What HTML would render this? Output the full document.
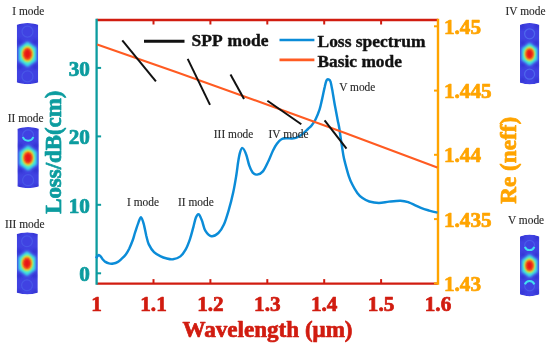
<!DOCTYPE html>
<html><head><meta charset="utf-8"><style>
html,body{margin:0;padding:0;background:#fff;width:550px;height:350px;overflow:hidden;}
svg{display:block;font-family:"Liberation Serif",serif;filter:blur(0.4px);}
</style></head><body>
<svg width="550" height="350" viewBox="0 0 550 350">
<defs>
<radialGradient id="hot" cx="50%" cy="50%" r="50%">
<stop offset="0" stop-color="#e00a0a"/>
<stop offset="0.3" stop-color="#ec1c10"/>
<stop offset="0.46" stop-color="#f88a18"/>
<stop offset="0.58" stop-color="#eee838"/>
<stop offset="0.72" stop-color="#58e8c8"/>
<stop offset="0.86" stop-color="#38a8f0"/>
<stop offset="1" stop-color="#3552e4" stop-opacity="0"/>
</radialGradient>
<radialGradient id="ring" cx="50%" cy="50%" r="50%">
<stop offset="0" stop-color="#3a58e8" stop-opacity="0"/>
<stop offset="0.6" stop-color="#3a58e8" stop-opacity="0"/>
<stop offset="0.82" stop-color="#5a90f4" stop-opacity="0.8"/>
<stop offset="1" stop-color="#3a58e8" stop-opacity="0"/>
</radialGradient>
<filter id="bl" x="-20%" y="-20%" width="140%" height="140%"><feGaussianBlur stdDeviation="0.6"/></filter>
<filter id="bl2" x="-20%" y="-20%" width="140%" height="140%"><feGaussianBlur stdDeviation="0.9"/></filter>
<filter id="bl3" x="-30%" y="-30%" width="160%" height="160%"><feGaussianBlur stdDeviation="1.4"/></filter>
</defs>
<line x1="96.6" y1="20" x2="438" y2="20" stroke="#d11c10" stroke-width="2.3"/>
<line x1="96.6" y1="283.6" x2="438" y2="283.6" stroke="#d11c10" stroke-width="2.3"/>
<line x1="153.5" y1="20" x2="153.5" y2="24.5" stroke="#d11c10" stroke-width="2"/>
<line x1="153.5" y1="283.6" x2="153.5" y2="279.1" stroke="#d11c10" stroke-width="2"/>
<line x1="210.4" y1="20" x2="210.4" y2="24.5" stroke="#d11c10" stroke-width="2"/>
<line x1="210.4" y1="283.6" x2="210.4" y2="279.1" stroke="#d11c10" stroke-width="2"/>
<line x1="267.3" y1="20" x2="267.3" y2="24.5" stroke="#d11c10" stroke-width="2"/>
<line x1="267.3" y1="283.6" x2="267.3" y2="279.1" stroke="#d11c10" stroke-width="2"/>
<line x1="324.2" y1="20" x2="324.2" y2="24.5" stroke="#d11c10" stroke-width="2"/>
<line x1="324.2" y1="283.6" x2="324.2" y2="279.1" stroke="#d11c10" stroke-width="2"/>
<line x1="381.1" y1="20" x2="381.1" y2="24.5" stroke="#d11c10" stroke-width="2"/>
<line x1="381.1" y1="283.6" x2="381.1" y2="279.1" stroke="#d11c10" stroke-width="2"/>
<line x1="96.6" y1="18.7" x2="96.6" y2="284.70000000000005" stroke="#0c9c9f" stroke-width="2.3"/>
<line x1="96.6" y1="273.3" x2="101.1" y2="273.3" stroke="#0c9c9f" stroke-width="2"/>
<line x1="96.6" y1="204.8" x2="101.1" y2="204.8" stroke="#0c9c9f" stroke-width="2"/>
<line x1="96.6" y1="136.4" x2="101.1" y2="136.4" stroke="#0c9c9f" stroke-width="2"/>
<line x1="96.6" y1="67.9" x2="101.1" y2="67.9" stroke="#0c9c9f" stroke-width="2"/>
<line x1="438" y1="18.7" x2="438" y2="284.70000000000005" stroke="#ffa400" stroke-width="2.4"/>
<line x1="438" y1="283.4" x2="434" y2="283.4" stroke="#ffa400" stroke-width="2"/>
<line x1="438" y1="219.1" x2="434" y2="219.1" stroke="#ffa400" stroke-width="2"/>
<line x1="438" y1="154.8" x2="434" y2="154.8" stroke="#ffa400" stroke-width="2"/>
<line x1="438" y1="90.6" x2="434" y2="90.6" stroke="#ffa400" stroke-width="2"/>
<line x1="438" y1="26.3" x2="434" y2="26.3" stroke="#ffa400" stroke-width="2"/>
<path d="M96.0,258.2 C96.2,257.9 97.0,256.7 97.5,256.2 C98.0,255.7 98.5,255.0 99.1,255.1 C99.6,255.2 100.2,255.9 100.8,256.6 C101.4,257.3 101.8,258.3 102.6,259.2 C103.4,260.1 104.4,261.2 105.4,261.9 C106.5,262.6 107.6,263.1 108.9,263.4 C110.2,263.7 112.0,263.7 113.4,263.5 C114.8,263.3 116.2,262.9 117.5,262.2 C118.8,261.5 119.9,260.4 121.3,259.1 C122.7,257.8 124.5,256.2 125.8,254.5 C127.1,252.8 128.0,251.2 129.2,248.8 C130.3,246.4 131.7,243.0 132.7,240.3 C133.7,237.6 134.1,235.4 135.1,232.4 C136.1,229.4 137.6,224.6 138.6,222.1 C139.6,219.6 140.2,217.0 141.1,217.3 C141.9,217.6 142.8,220.7 143.7,223.8 C144.6,226.9 145.5,232.4 146.3,235.8 C147.2,239.2 147.5,241.7 148.8,244.4 C150.1,247.1 152.0,250.1 154.0,252.1 C156.0,254.1 158.8,255.4 160.8,256.4 C162.8,257.4 164.0,257.8 166.0,258.3 C168.0,258.8 170.6,259.6 173.0,259.3 C175.4,259.0 178.3,258.0 180.4,256.4 C182.5,254.8 184.0,252.4 185.6,249.6 C187.2,246.8 188.6,243.0 189.9,239.3 C191.2,235.6 192.3,230.9 193.3,227.3 C194.3,223.7 195.0,219.7 195.9,217.5 C196.8,215.3 197.8,213.9 198.8,214.4 C199.8,214.9 200.8,217.7 201.9,220.4 C203.0,223.1 203.7,228.1 205.3,230.7 C206.9,233.3 209.1,235.8 211.3,236.2 C213.5,236.6 216.3,234.9 218.4,233.0 C220.5,231.1 222.1,228.6 223.9,224.6 C225.7,220.6 227.4,214.6 229.0,209.2 C230.6,203.8 232.1,197.5 233.3,192.0 C234.5,186.5 235.4,180.9 236.2,176.0 C237.0,171.1 237.5,166.2 238.1,162.3 C238.7,158.5 239.2,155.3 239.9,152.9 C240.6,150.5 241.4,148.0 242.4,148.1 C243.4,148.2 244.8,150.8 245.9,153.7 C247.1,156.6 248.2,162.5 249.3,165.7 C250.4,168.8 251.4,171.1 252.7,172.6 C254.0,174.1 255.4,174.8 257.1,174.6 C258.8,174.4 261.0,173.7 262.9,171.4 C264.8,169.1 266.9,164.1 268.6,160.7 C270.3,157.2 271.5,153.5 272.9,150.7 C274.3,147.8 275.7,145.5 277.1,143.6 C278.5,141.7 279.8,140.2 281.4,139.3 C282.9,138.4 284.6,138.4 286.4,138.3 C288.2,138.2 290.2,138.6 292.0,138.5 C293.8,138.4 295.2,138.3 297.0,137.5 C298.8,136.7 300.9,135.3 302.7,133.9 C304.5,132.5 306.4,130.5 308.0,129.0 C309.6,127.5 310.8,126.6 312.0,125.0 C313.2,123.4 314.2,122.1 315.5,119.5 C316.8,116.9 318.5,112.8 319.6,109.4 C320.7,106.0 321.2,102.8 322.1,99.1 C323.0,95.4 323.9,90.2 324.7,87.1 C325.4,84.0 326.0,81.6 326.6,80.3 C327.2,79.0 327.9,79.2 328.5,79.4 C329.1,79.6 329.9,79.6 330.5,81.5 C331.1,83.4 331.6,86.5 332.4,90.6 C333.1,94.7 334.1,101.2 335.0,106.0 C335.9,110.8 336.9,116.0 337.6,119.7 C338.3,123.4 338.7,124.5 339.3,128.3 C339.9,132.2 340.7,138.3 341.4,142.8 C342.1,147.3 342.8,152.0 343.4,155.5 C344.0,159.0 344.4,160.3 345.3,163.7 C346.2,167.1 347.6,172.4 348.7,175.8 C349.8,179.2 350.8,181.5 352.2,184.3 C353.6,187.2 355.6,190.6 357.3,192.9 C359.0,195.2 360.5,196.7 362.5,198.1 C364.5,199.5 366.6,200.7 369.3,201.5 C372.0,202.3 375.6,202.9 378.9,202.9 C382.2,202.9 385.5,202.0 389.1,201.6 C392.7,201.2 397.3,200.6 400.5,200.7 C403.7,200.8 404.8,201.0 408.2,202.2 C411.6,203.4 417.4,206.5 420.9,207.9 C424.4,209.3 426.4,209.8 429.2,210.6 C432.0,211.4 436.1,212.3 437.5,212.6" fill="none" stroke="#0b8cd8" stroke-width="2.45" stroke-linejoin="round"/>
<path d="M97.2,44.6 Q267.25,103.3 437.3,167.4" fill="none" stroke="#ff5b22" stroke-width="2.1"/>
<line x1="122.3" y1="40.3" x2="155.9" y2="81.4" stroke="#111" stroke-width="2"/>
<line x1="187.7" y1="58.9" x2="210" y2="104.9" stroke="#111" stroke-width="2"/>
<line x1="230.5" y1="74.4" x2="244" y2="99.1" stroke="#111" stroke-width="2"/>
<line x1="267.4" y1="100.8" x2="301.3" y2="124.2" stroke="#111" stroke-width="2"/>
<line x1="324.6" y1="120.3" x2="346.5" y2="148.6" stroke="#111" stroke-width="2"/>
<text transform="translate(89.9,281.0) scale(1.06,1)" font-family="Liberation Serif, serif" font-weight="bold" font-size="20" fill="#0c9c9f" stroke="#0c9c9f" stroke-width="0.7" stroke-linejoin="round" text-anchor="end" >0</text>
<text transform="translate(89.9,212.5) scale(1.06,1)" font-family="Liberation Serif, serif" font-weight="bold" font-size="20" fill="#0c9c9f" stroke="#0c9c9f" stroke-width="0.7" stroke-linejoin="round" text-anchor="end" >10</text>
<text transform="translate(89.9,144.1) scale(1.06,1)" font-family="Liberation Serif, serif" font-weight="bold" font-size="20" fill="#0c9c9f" stroke="#0c9c9f" stroke-width="0.7" stroke-linejoin="round" text-anchor="end" >20</text>
<text transform="translate(89.9,75.6) scale(1.06,1)" font-family="Liberation Serif, serif" font-weight="bold" font-size="20" fill="#0c9c9f" stroke="#0c9c9f" stroke-width="0.7" stroke-linejoin="round" text-anchor="end" >30</text>
<text transform="translate(443.9,291.0) scale(1.06,1)" font-family="Liberation Serif, serif" font-weight="bold" font-size="20" fill="#ffa400" stroke="#ffa400" stroke-width="0.7" stroke-linejoin="round" text-anchor="start" >1.43</text>
<text transform="translate(443.9,226.7) scale(1.06,1)" font-family="Liberation Serif, serif" font-weight="bold" font-size="20" fill="#ffa400" stroke="#ffa400" stroke-width="0.7" stroke-linejoin="round" text-anchor="start" >1.435</text>
<text transform="translate(443.9,162.4) scale(1.06,1)" font-family="Liberation Serif, serif" font-weight="bold" font-size="20" fill="#ffa400" stroke="#ffa400" stroke-width="0.7" stroke-linejoin="round" text-anchor="start" >1.44</text>
<text transform="translate(443.9,98.2) scale(1.06,1)" font-family="Liberation Serif, serif" font-weight="bold" font-size="20" fill="#ffa400" stroke="#ffa400" stroke-width="0.7" stroke-linejoin="round" text-anchor="start" >1.445</text>
<text transform="translate(443.9,33.9) scale(1.06,1)" font-family="Liberation Serif, serif" font-weight="bold" font-size="20" fill="#ffa400" stroke="#ffa400" stroke-width="0.7" stroke-linejoin="round" text-anchor="start" >1.45</text>
<text transform="translate(96.6,310.6) scale(1.06,1)" font-family="Liberation Serif, serif" font-weight="bold" font-size="20" fill="#d11c10" stroke="#d11c10" stroke-width="0.7" stroke-linejoin="round" text-anchor="middle" >1</text>
<text transform="translate(153.5,310.6) scale(1.06,1)" font-family="Liberation Serif, serif" font-weight="bold" font-size="20" fill="#d11c10" stroke="#d11c10" stroke-width="0.7" stroke-linejoin="round" text-anchor="middle" >1.1</text>
<text transform="translate(210.4,310.6) scale(1.06,1)" font-family="Liberation Serif, serif" font-weight="bold" font-size="20" fill="#d11c10" stroke="#d11c10" stroke-width="0.7" stroke-linejoin="round" text-anchor="middle" >1.2</text>
<text transform="translate(267.3,310.6) scale(1.06,1)" font-family="Liberation Serif, serif" font-weight="bold" font-size="20" fill="#d11c10" stroke="#d11c10" stroke-width="0.7" stroke-linejoin="round" text-anchor="middle" >1.3</text>
<text transform="translate(324.2,310.6) scale(1.06,1)" font-family="Liberation Serif, serif" font-weight="bold" font-size="20" fill="#d11c10" stroke="#d11c10" stroke-width="0.7" stroke-linejoin="round" text-anchor="middle" >1.4</text>
<text transform="translate(381.1,310.6) scale(1.06,1)" font-family="Liberation Serif, serif" font-weight="bold" font-size="20" fill="#d11c10" stroke="#d11c10" stroke-width="0.7" stroke-linejoin="round" text-anchor="middle" >1.5</text>
<text transform="translate(438.0,310.6) scale(1.06,1)" font-family="Liberation Serif, serif" font-weight="bold" font-size="20" fill="#d11c10" stroke="#d11c10" stroke-width="0.7" stroke-linejoin="round" text-anchor="middle" >1.6</text>
<text transform="translate(267.5,336.8) scale(1.004,1)" font-family="Liberation Serif, serif" font-weight="bold" font-size="23" fill="#d11c10" stroke="#d11c10" stroke-width="0.7" stroke-linejoin="round" text-anchor="middle" >Wavelength (μm)</text>
<g transform="translate(60.6,152.2) rotate(-90)"><text transform="translate(0.0,0.0) scale(0.995,1)" font-family="Liberation Serif, serif" font-weight="bold" font-size="23" fill="#0c9c9f" stroke="#0c9c9f" stroke-width="0.7" stroke-linejoin="round" text-anchor="middle" >Loss/dB(cm)</text></g>
<g transform="translate(516.3,160.3) rotate(-90)"><text transform="translate(0.0,0.0) scale(1.009,1)" font-family="Liberation Serif, serif" font-weight="bold" font-size="23" fill="#ffa400" stroke="#ffa400" stroke-width="0.7" stroke-linejoin="round" text-anchor="middle" >Re (neff)</text></g>
<line x1="144" y1="41.2" x2="184.5" y2="41.2" stroke="#111" stroke-width="3"/>
<text transform="translate(191.6,45.9) scale(1.0,1)" font-family="Liberation Serif, serif" font-weight="bold" font-size="17.5" fill="#111" stroke="#111" stroke-width="0.4" stroke-linejoin="round" text-anchor="start" word-spacing="1.5">SPP mode</text>
<line x1="279.5" y1="40" x2="314.4" y2="40" stroke="#0b8cd8" stroke-width="2.6"/>
<text transform="translate(317.5,47.3) scale(0.997,1)" font-family="Liberation Serif, serif" font-weight="bold" font-size="17.5" fill="#111" stroke="#111" stroke-width="0.4" stroke-linejoin="round" text-anchor="start" >Loss spectrum</text>
<line x1="279.5" y1="59.9" x2="314.4" y2="59.9" stroke="#ff5b22" stroke-width="2.6"/>
<text transform="translate(317.5,67.3) scale(0.993,1)" font-family="Liberation Serif, serif" font-weight="bold" font-size="17.5" fill="#111" stroke="#111" stroke-width="0.4" stroke-linejoin="round" text-anchor="start" >Basic mode</text>
<text transform="translate(127,206) scale(0.905,1)" font-family="Liberation Serif, serif" font-size="12.6" fill="#2a2a2a" stroke="#2a2a2a" stroke-width="0.15">I mode</text>
<text transform="translate(178,206) scale(0.905,1)" font-family="Liberation Serif, serif" font-size="12.6" fill="#2a2a2a" stroke="#2a2a2a" stroke-width="0.15">II mode</text>
<text transform="translate(213.8,137.6) scale(0.905,1)" font-family="Liberation Serif, serif" font-size="12.6" fill="#2a2a2a" stroke="#2a2a2a" stroke-width="0.15">III mode</text>
<text transform="translate(268.5,137.6) scale(0.905,1)" font-family="Liberation Serif, serif" font-size="12.6" fill="#2a2a2a" stroke="#2a2a2a" stroke-width="0.15">IV mode</text>
<text transform="translate(339.2,91.4) scale(0.905,1)" font-family="Liberation Serif, serif" font-size="12.6" fill="#2a2a2a" stroke="#2a2a2a" stroke-width="0.15">V mode</text>
<text transform="translate(12.3,15.0) scale(0.905,1)" font-family="Liberation Serif, serif" font-size="12.6" fill="#2a2a2a" stroke="#2a2a2a" stroke-width="0.15">I mode</text>
<text transform="translate(7.7,121.8) scale(0.905,1)" font-family="Liberation Serif, serif" font-size="12.6" fill="#2a2a2a" stroke="#2a2a2a" stroke-width="0.15">II mode</text>
<text transform="translate(5,228.0) scale(0.905,1)" font-family="Liberation Serif, serif" font-size="12.6" fill="#2a2a2a" stroke="#2a2a2a" stroke-width="0.15">III mode</text>
<text transform="translate(505.5,14.8) scale(0.905,1)" font-family="Liberation Serif, serif" font-size="12.6" fill="#2a2a2a" stroke="#2a2a2a" stroke-width="0.15">IV mode</text>
<text transform="translate(508,224.1) scale(0.905,1)" font-family="Liberation Serif, serif" font-size="12.6" fill="#2a2a2a" stroke="#2a2a2a" stroke-width="0.15">V mode</text>
<clipPath id="mc1"><path d="M16.8,24.7 Q27.5,21.099999999999998 38.2,24.7 L38.2,82.39999999999999 Q27.5,85.99999999999999 16.8,82.39999999999999 Z"/></clipPath><g clip-path="url(#mc1)"><path d="M16.8,24.7 Q27.5,21.099999999999998 38.2,24.7 L38.2,82.39999999999999 Q27.5,85.99999999999999 16.8,82.39999999999999 Z" fill="#4042e2"/><circle cx="19.9" cy="41.8" r="2.6" fill="#2c2cc8" opacity="0.6" filter="url(#bl3)"/><circle cx="35.1" cy="41.8" r="2.6" fill="#2c2cc8" opacity="0.6" filter="url(#bl3)"/><circle cx="19.9" cy="66.7" r="2.6" fill="#2c2cc8" opacity="0.6" filter="url(#bl3)"/><circle cx="35.1" cy="66.7" r="2.6" fill="#2c2cc8" opacity="0.6" filter="url(#bl3)"/><circle cx="19.3" cy="23.4" r="2.6" fill="#2c2cc8" opacity="0.6" filter="url(#bl3)"/><circle cx="35.7" cy="23.4" r="2.6" fill="#2c2cc8" opacity="0.6" filter="url(#bl3)"/><circle cx="19.3" cy="83.6" r="2.6" fill="#2c2cc8" opacity="0.6" filter="url(#bl3)"/><circle cx="35.7" cy="83.6" r="2.6" fill="#2c2cc8" opacity="0.6" filter="url(#bl3)"/><circle cx="27.5" cy="31.6" r="5.5" fill="none" stroke="#5a86f4" stroke-width="1.2" opacity="0.3" filter="url(#bl)"/><circle cx="27.5" cy="76.4" r="5.5" fill="none" stroke="#5a86f4" stroke-width="1.2" opacity="0.3" filter="url(#bl)"/><polygon points="27.5,41.0 36.9,47.6 36.9,60.9 27.5,67.5 18.1,60.9 18.1,47.6" fill="#4a8cf0" opacity="0.7" filter="url(#bl3)"/><polygon points="27.5,42.0 35.9,48.1 35.9,60.4 27.5,66.5 19.1,60.4 19.1,48.1" fill="#38e4e4" filter="url(#bl2)"/><ellipse cx="27.5" cy="54" rx="6.1" ry="8.4" fill="#a8f070" filter="url(#bl2)"/><ellipse cx="27.5" cy="54" rx="5.3" ry="7.1" fill="#f8d828" filter="url(#bl2)"/><ellipse cx="27.5" cy="54" rx="4.3" ry="5.9" fill="#f46018" filter="url(#bl2)"/><ellipse cx="27.5" cy="54" rx="3.5" ry="4.9" fill="#e81414" filter="url(#bl2)"/></g>
<clipPath id="mc2"><path d="M17.4,128.70000000000002 Q28.099999999999998,125.10000000000001 38.8,128.70000000000002 L38.8,186.39999999999998 Q28.099999999999998,190.0 17.4,186.39999999999998 Z"/></clipPath><g clip-path="url(#mc2)"><path d="M17.4,128.70000000000002 Q28.099999999999998,125.10000000000001 38.8,128.70000000000002 L38.8,186.39999999999998 Q28.099999999999998,190.0 17.4,186.39999999999998 Z" fill="#4042e2"/><circle cx="20.5" cy="145.6" r="2.6" fill="#2c2cc8" opacity="0.6" filter="url(#bl3)"/><circle cx="35.7" cy="145.6" r="2.6" fill="#2c2cc8" opacity="0.6" filter="url(#bl3)"/><circle cx="20.5" cy="170.5" r="2.6" fill="#2c2cc8" opacity="0.6" filter="url(#bl3)"/><circle cx="35.7" cy="170.5" r="2.6" fill="#2c2cc8" opacity="0.6" filter="url(#bl3)"/><circle cx="19.9" cy="127.2" r="2.6" fill="#2c2cc8" opacity="0.6" filter="url(#bl3)"/><circle cx="36.3" cy="127.2" r="2.6" fill="#2c2cc8" opacity="0.6" filter="url(#bl3)"/><circle cx="19.9" cy="187.4" r="2.6" fill="#2c2cc8" opacity="0.6" filter="url(#bl3)"/><circle cx="36.3" cy="187.4" r="2.6" fill="#2c2cc8" opacity="0.6" filter="url(#bl3)"/><circle cx="28.1" cy="135.4" r="5.5" fill="none" stroke="#5a86f4" stroke-width="1.2" opacity="0.35" filter="url(#bl)"/><path d="M22.9,137.0 A5.5,5.5 0 0 0 33.3,137.0" fill="none" stroke="#40e0f0" stroke-width="2" filter="url(#bl)"/><circle cx="28.1" cy="180.2" r="5.5" fill="none" stroke="#5a86f4" stroke-width="1.2" opacity="0.3" filter="url(#bl)"/><polygon points="28.1,144.8 37.5,151.4 37.5,164.7 28.1,171.3 18.7,164.7 18.7,151.4" fill="#4a8cf0" opacity="0.7" filter="url(#bl3)"/><polygon points="28.1,145.8 36.5,151.9 36.5,164.2 28.1,170.3 19.7,164.2 19.7,151.9" fill="#38e4e4" filter="url(#bl2)"/><ellipse cx="28.1" cy="157.8" rx="6.1" ry="8.4" fill="#a8f070" filter="url(#bl2)"/><ellipse cx="28.1" cy="157.8" rx="5.3" ry="7.1" fill="#f8d828" filter="url(#bl2)"/><ellipse cx="28.1" cy="157.8" rx="4.3" ry="5.9" fill="#f46018" filter="url(#bl2)"/><ellipse cx="28.1" cy="157.8" rx="3.5" ry="4.9" fill="#e81414" filter="url(#bl2)"/></g>
<clipPath id="mc3"><path d="M16.8,234.10000000000002 Q27.3,230.5 37.8,234.10000000000002 L37.8,292.8 Q27.3,296.40000000000003 16.8,292.8 Z"/></clipPath><g clip-path="url(#mc3)"><path d="M16.8,234.10000000000002 Q27.3,230.5 37.8,234.10000000000002 L37.8,292.8 Q27.3,296.40000000000003 16.8,292.8 Z" fill="#4042e2"/><circle cx="19.5" cy="251.3" r="2.6" fill="#2c2cc8" opacity="0.6" filter="url(#bl3)"/><circle cx="34.5" cy="251.3" r="2.6" fill="#2c2cc8" opacity="0.6" filter="url(#bl3)"/><circle cx="19.5" cy="275.8" r="2.6" fill="#2c2cc8" opacity="0.6" filter="url(#bl3)"/><circle cx="34.5" cy="275.8" r="2.6" fill="#2c2cc8" opacity="0.6" filter="url(#bl3)"/><circle cx="19.0" cy="233.3" r="2.6" fill="#2c2cc8" opacity="0.6" filter="url(#bl3)"/><circle cx="35.0" cy="233.3" r="2.6" fill="#2c2cc8" opacity="0.6" filter="url(#bl3)"/><circle cx="19.0" cy="292.3" r="2.6" fill="#2c2cc8" opacity="0.6" filter="url(#bl3)"/><circle cx="35.0" cy="292.3" r="2.6" fill="#2c2cc8" opacity="0.6" filter="url(#bl3)"/><circle cx="27" cy="241.3" r="5.4" fill="none" stroke="#5a86f4" stroke-width="1.2" opacity="0.3" filter="url(#bl)"/><circle cx="27" cy="285.3" r="5.4" fill="none" stroke="#5a86f4" stroke-width="1.2" opacity="0.3" filter="url(#bl)"/><polygon points="27.0,250.6 36.2,257.0 36.2,270.1 27.0,276.6 17.8,270.1 17.8,257.0" fill="#4a8cf0" opacity="0.7" filter="url(#bl3)"/><polygon points="27.0,251.5 35.2,257.5 35.2,269.6 27.0,275.6 18.8,269.6 18.8,257.5" fill="#38e4e4" filter="url(#bl2)"/><ellipse cx="27" cy="263.3" rx="6.0" ry="8.2" fill="#a8f070" filter="url(#bl2)"/><ellipse cx="27" cy="263.3" rx="5.2" ry="7.0" fill="#f8d828" filter="url(#bl2)"/><ellipse cx="27" cy="263.3" rx="4.2" ry="5.8" fill="#f46018" filter="url(#bl2)"/><ellipse cx="27" cy="263.3" rx="3.4" ry="4.8" fill="#e81414" filter="url(#bl2)"/></g>
<clipPath id="mc4"><path d="M520.0,24.7 Q529.65,21.099999999999998 539.3,24.7 L539.3,82.8 Q529.65,86.39999999999999 520.0,82.8 Z"/></clipPath><g clip-path="url(#mc4)"><path d="M520.0,24.7 Q529.65,21.099999999999998 539.3,24.7 L539.3,82.8 Q529.65,86.39999999999999 520.0,82.8 Z" fill="#4042e2"/><circle cx="522.7" cy="43.0" r="2.4" fill="#2c2cc8" opacity="0.6" filter="url(#bl3)"/><circle cx="536.5" cy="43.0" r="2.4" fill="#2c2cc8" opacity="0.6" filter="url(#bl3)"/><circle cx="522.7" cy="65.5" r="2.4" fill="#2c2cc8" opacity="0.6" filter="url(#bl3)"/><circle cx="536.5" cy="65.5" r="2.4" fill="#2c2cc8" opacity="0.6" filter="url(#bl3)"/><circle cx="522.2" cy="26.4" r="2.4" fill="#2c2cc8" opacity="0.6" filter="url(#bl3)"/><circle cx="537.0" cy="26.4" r="2.4" fill="#2c2cc8" opacity="0.6" filter="url(#bl3)"/><circle cx="522.2" cy="80.7" r="2.4" fill="#2c2cc8" opacity="0.6" filter="url(#bl3)"/><circle cx="537.0" cy="80.7" r="2.4" fill="#2c2cc8" opacity="0.6" filter="url(#bl3)"/><circle cx="529.6" cy="33.8" r="5.0" fill="none" stroke="#5a86f4" stroke-width="1.2" opacity="0.55" filter="url(#bl)"/><circle cx="529.6" cy="74.2" r="5.0" fill="none" stroke="#5a86f4" stroke-width="1.2" opacity="0.55" filter="url(#bl)"/><polygon points="529.6,42.3 538.0,48.2 538.0,60.3 529.6,66.2 521.2,60.3 521.2,48.2" fill="#4a8cf0" opacity="0.7" filter="url(#bl3)"/><polygon points="529.6,43.2 537.1,48.7 537.1,59.8 529.6,65.3 522.1,59.8 522.1,48.7" fill="#38e4e4" filter="url(#bl2)"/><ellipse cx="529.6" cy="54" rx="5.5" ry="7.5" fill="#a8f070" filter="url(#bl2)"/><ellipse cx="529.6" cy="54" rx="4.8" ry="6.4" fill="#f8d828" filter="url(#bl2)"/><ellipse cx="529.6" cy="54" rx="3.9" ry="5.3" fill="#f46018" filter="url(#bl2)"/><ellipse cx="529.6" cy="54" rx="3.1" ry="4.4" fill="#e81414" filter="url(#bl2)"/></g>
<clipPath id="mc5"><path d="M520.0,236.4 Q529.65,232.79999999999998 539.3,236.4 L539.3,294.59999999999997 Q529.65,298.2 520.0,294.59999999999997 Z"/></clipPath><g clip-path="url(#mc5)"><path d="M520.0,236.4 Q529.65,232.79999999999998 539.3,236.4 L539.3,294.59999999999997 Q529.65,298.2 520.0,294.59999999999997 Z" fill="#4042e2"/><circle cx="522.7" cy="254.6" r="2.4" fill="#2c2cc8" opacity="0.6" filter="url(#bl3)"/><circle cx="536.5" cy="254.6" r="2.4" fill="#2c2cc8" opacity="0.6" filter="url(#bl3)"/><circle cx="522.7" cy="277.1" r="2.4" fill="#2c2cc8" opacity="0.6" filter="url(#bl3)"/><circle cx="536.5" cy="277.1" r="2.4" fill="#2c2cc8" opacity="0.6" filter="url(#bl3)"/><circle cx="522.2" cy="238.0" r="2.4" fill="#2c2cc8" opacity="0.6" filter="url(#bl3)"/><circle cx="537.0" cy="238.0" r="2.4" fill="#2c2cc8" opacity="0.6" filter="url(#bl3)"/><circle cx="522.2" cy="292.3" r="2.4" fill="#2c2cc8" opacity="0.6" filter="url(#bl3)"/><circle cx="537.0" cy="292.3" r="2.4" fill="#2c2cc8" opacity="0.6" filter="url(#bl3)"/><circle cx="529.6" cy="245.4" r="5.0" fill="none" stroke="#5a86f4" stroke-width="1.2" opacity="0.35" filter="url(#bl)"/><path d="M524.9,246.9 A5.0,5.0 0 0 0 534.3,246.9" fill="none" stroke="#40e0f0" stroke-width="2" filter="url(#bl)"/><circle cx="529.6" cy="285.8" r="5.0" fill="none" stroke="#5a86f4" stroke-width="1.2" opacity="0.35" filter="url(#bl)"/><path d="M524.9,284.3 A5.0,5.0 0 0 1 534.3,284.3" fill="none" stroke="#40e0f0" stroke-width="2" filter="url(#bl)"/><polygon points="529.6,253.9 538.0,259.8 538.0,271.9 529.6,277.8 521.2,271.9 521.2,259.8" fill="#4a8cf0" opacity="0.7" filter="url(#bl3)"/><polygon points="529.6,254.8 537.1,260.3 537.1,271.4 529.6,276.9 522.1,271.4 522.1,260.3" fill="#38e4e4" filter="url(#bl2)"/><ellipse cx="529.6" cy="265.6" rx="5.5" ry="7.5" fill="#a8f070" filter="url(#bl2)"/><ellipse cx="529.6" cy="265.6" rx="4.8" ry="6.4" fill="#f8d828" filter="url(#bl2)"/><ellipse cx="529.6" cy="265.6" rx="3.9" ry="5.3" fill="#f46018" filter="url(#bl2)"/><ellipse cx="529.6" cy="265.6" rx="3.1" ry="4.4" fill="#e81414" filter="url(#bl2)"/></g>
</svg>
</body></html>
